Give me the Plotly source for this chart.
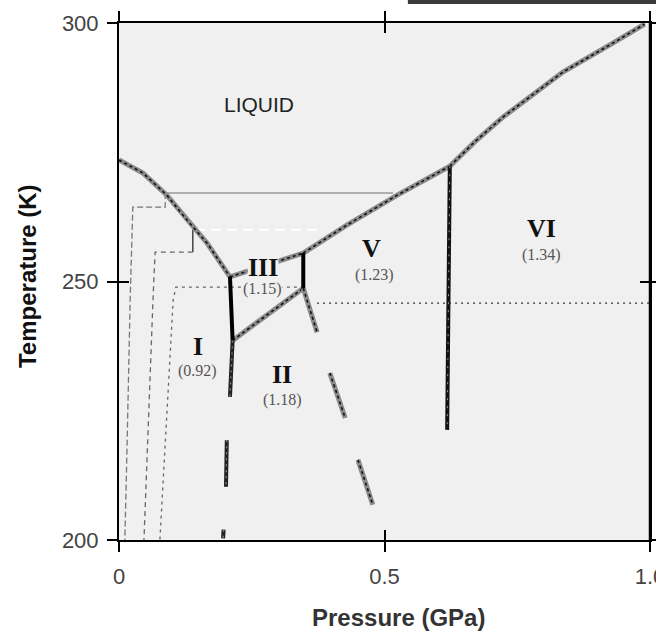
import plotly.graph_objects as go

# ---------------- data (pressure in GPa, temperature in K) ----------------
melt_I_P = [0.0, 0.045, 0.090, 0.128, 0.166, 0.203, 0.209]
melt_I_T = [273.5, 271.0, 266.7, 261.9, 257.4, 251.8, 250.9]

melt_III_P = [0.209, 0.347]
melt_III_T = [250.9, 255.5]

melt_V_P = [0.347, 0.429, 0.524, 0.623]
melt_V_T = [255.5, 260.9, 266.7, 272.3]

melt_VI_P = [0.623, 0.670, 0.723, 0.836, 0.930, 0.990]
melt_VI_T = [272.3, 277.0, 281.8, 290.5, 296.1, 299.8]

I_III_P = [0.209, 0.214]
I_III_T = [250.9, 238.6]

III_V_P = [0.347, 0.347]
III_V_T = [255.5, 248.7]

V_VI_P = [0.623, 0.618]
V_VI_T = [272.3, 221.3]

II_III_P = [0.214, 0.347]
II_III_T = [238.6, 248.7]

I_II_P = [0.214, 0.209, None, 0.203, 0.2015, None, 0.197, 0.196]
I_II_T = [238.6, 227.7, None, 219.3, 210.3, None, 202.0, 200.3]

II_V_P = [0.347, 0.373, None, 0.397, 0.426, None, 0.450, 0.478]
II_V_T = [248.7, 240.2, None, 232.3, 223.6, None, 215.5, 206.8]

dotted_P = [0.373, 1.0]
dotted_T = [245.8, 245.8]

pathA_top_P = [0.516, 0.087]
pathA_top_T = [267.1, 267.1]
pathA_P = [0.087, 0.087, 0.026, 0.021, 0.015, 0.011]
pathA_T = [267.1, 264.4, 264.4, 246.4, 217.4, 200.0]

pathB_top_P = [0.373, 0.139]
pathB_top_T = [260.0, 260.0]
pathB_step_P = [0.139, 0.139]
pathB_step_T = [260.0, 255.7]
pathB_P = [0.139, 0.068, 0.064, 0.049, 0.047]
pathB_T = [255.7, 255.7, 246.4, 201.9, 200.0]

pathC_P = [0.335, 0.107, 0.102, 0.087, 0.077]
pathC_T = [248.9, 248.9, 246.4, 217.4, 200.0]

phase_names = ["I", "II", "III", "V", "VI"]
phase_P = [0.149, 0.307, 0.271, 0.476, 0.795]
phase_T = [237.5, 232.1, 252.8, 256.3, 260.3]
density_text = ["(0.92)", "(1.18)", "(1.15)", "(1.23)", "(1.34)"]
density_P = [0.147, 0.307, 0.271, 0.482, 0.795]
density_T = [232.7, 227.1, 248.5, 251.3, 255.1]

x_ticks = [0, 0.5, 1.0]
x_ticktext = ["0", "0.5", "1.0"]
y_ticks = [200, 250, 300]

fig = go.Figure()


def line(px, py, color, width, dash="solid"):
    fig.add_trace(go.Scatter(x=px, y=py, mode="lines",
                             line=dict(color=color, width=width, dash=dash),
                             hoverinfo="skip", showlegend=False, cliponaxis=False))


def textured(px, py, width=5):
    line(px, py, "#8a8a8a", width)
    line(px, py, "#111111", 1.6, "3px,3px")


# thin path lines
line(pathA_top_P, pathA_top_T, "#9a9a9a", 1.5)
line(pathA_P, pathA_T, "#777777", 1.3, "6px,3px")
line(pathB_top_P, pathB_top_T, "#ffffff", 2, "10px,6px")
line(pathB_step_P, pathB_step_T, "#444444", 1.5)
line(pathB_P, pathB_T, "#666666", 1.3, "5px,4px")
line(pathC_P, pathC_T, "#666666", 1.3, "3px,4px")
line(dotted_P, dotted_T, "#333333", 1.3, "2px,4px")

# phase boundaries
textured(melt_I_P, melt_I_T)
textured(melt_III_P, melt_III_T)
textured(melt_V_P, melt_V_T)
textured(melt_VI_P, melt_VI_T)
textured(II_III_P, II_III_T)
textured(II_V_P, II_V_T)
line(I_II_P, I_II_T, "#222222", 4)
line(I_II_P, I_II_T, "#888888", 1.2, "2px,4px")
line(I_III_P, I_III_T, "#000000", 4)
line(III_V_P, III_V_T, "#000000", 4)
line(V_VI_P, V_VI_T, "#111111", 4)
line(V_VI_P, V_VI_T, "#999999", 1, "2px,6px")

# invisible trace for the overlay axes (inside ticks)
fig.add_trace(go.Scatter(x=[None], y=[None], xaxis="x2", yaxis="y2",
                         showlegend=False, hoverinfo="skip"))

annotations = [
    dict(x=0.264, y=284.3, text="LIQUID", showarrow=False,
         font=dict(family="Liberation Sans", size=21, color="#222222")),
]
for n, px, py in zip(phase_names, phase_P, phase_T):
    annotations.append(dict(x=px, y=py, text="<b>" + n + "</b>", showarrow=False,
                            font=dict(family="Liberation Serif", size=26, color="#111111"),
                            bgcolor="#f0f0f0" if n == "III" else None, borderpad=0))
for t, px, py in zip(density_text, density_P, density_T):
    annotations.append(dict(x=px, y=py, text=t, showarrow=False,
                            font=dict(family="Liberation Serif", size=16, color="#555555"),
                            bgcolor="#f0f0f0" if t == "(1.15)" else None, borderpad=0))
annotations.append(dict(xref="paper", yref="paper", x=-0.171, y=0.511,
                        text="<b>Temperature (K)</b>", textangle=-90, showarrow=False,
                        xanchor="center", yanchor="middle",
                        font=dict(family="Liberation Sans", size=24, color="#111111")))
annotations.append(dict(xref="paper", yref="paper", x=0.527, y=-0.149,
                        text="<b>Pressure (GPa)</b>", showarrow=False,
                        xanchor="center", yanchor="middle",
                        font=dict(family="Liberation Sans", size=24, color="#333333")))

axis_common = dict(showgrid=False, zeroline=False, showline=True, linecolor="black",
                   linewidth=2, mirror="ticks", ticks="outside", ticklen=10,
                   tickwidth=1.5, tickcolor="black", automargin=False,
                   ticklabeloverflow="allow",
                   tickfont=dict(family="Liberation Sans", size=22, color="#444444"))

fig.update_layout(
    width=656, height=632, autosize=False,
    margin=dict(l=119, r=6, t=23, b=92, autoexpand=False),
    paper_bgcolor="white", plot_bgcolor="#f0f0f0",
    showlegend=False,
    xaxis=dict(range=[0, 1], tickmode="array", tickvals=x_ticks, ticktext=x_ticktext,
               ticklabelstandoff=6, **axis_common),
    yaxis=dict(range=[200, 300], tickmode="array", tickvals=y_ticks,
               ticklabelstandoff=4, **axis_common),
    xaxis2=dict(range=[0, 1], overlaying="x", anchor="y2", side="bottom",
                tickmode="array", tickvals=x_ticks, ticks="inside", ticklen=10,
                tickwidth=1.5, tickcolor="black", mirror="ticks", showline=False,
                showticklabels=False, showgrid=False, zeroline=False, automargin=False),
    yaxis2=dict(range=[200, 300], overlaying="y", anchor="x2", side="left",
                tickmode="array", tickvals=y_ticks, ticks="inside", ticklen=10,
                tickwidth=1.5, tickcolor="black", mirror="ticks", showline=False,
                showticklabels=False, showgrid=False, zeroline=False, automargin=False),
    annotations=annotations,
    shapes=[dict(type="rect", xref="paper", yref="paper",
                 x0=0.544, x1=1.02, y0=1.0368, y1=1.05,
                 fillcolor="#3a3a3a", line=dict(width=0), layer="above"),
            dict(type="line", xref="paper", yref="paper", x0=1, x1=1, y0=0, y1=1,
                 line=dict(color="black", width=2.5), layer="above")],
)

fig.write_html("out.html")
